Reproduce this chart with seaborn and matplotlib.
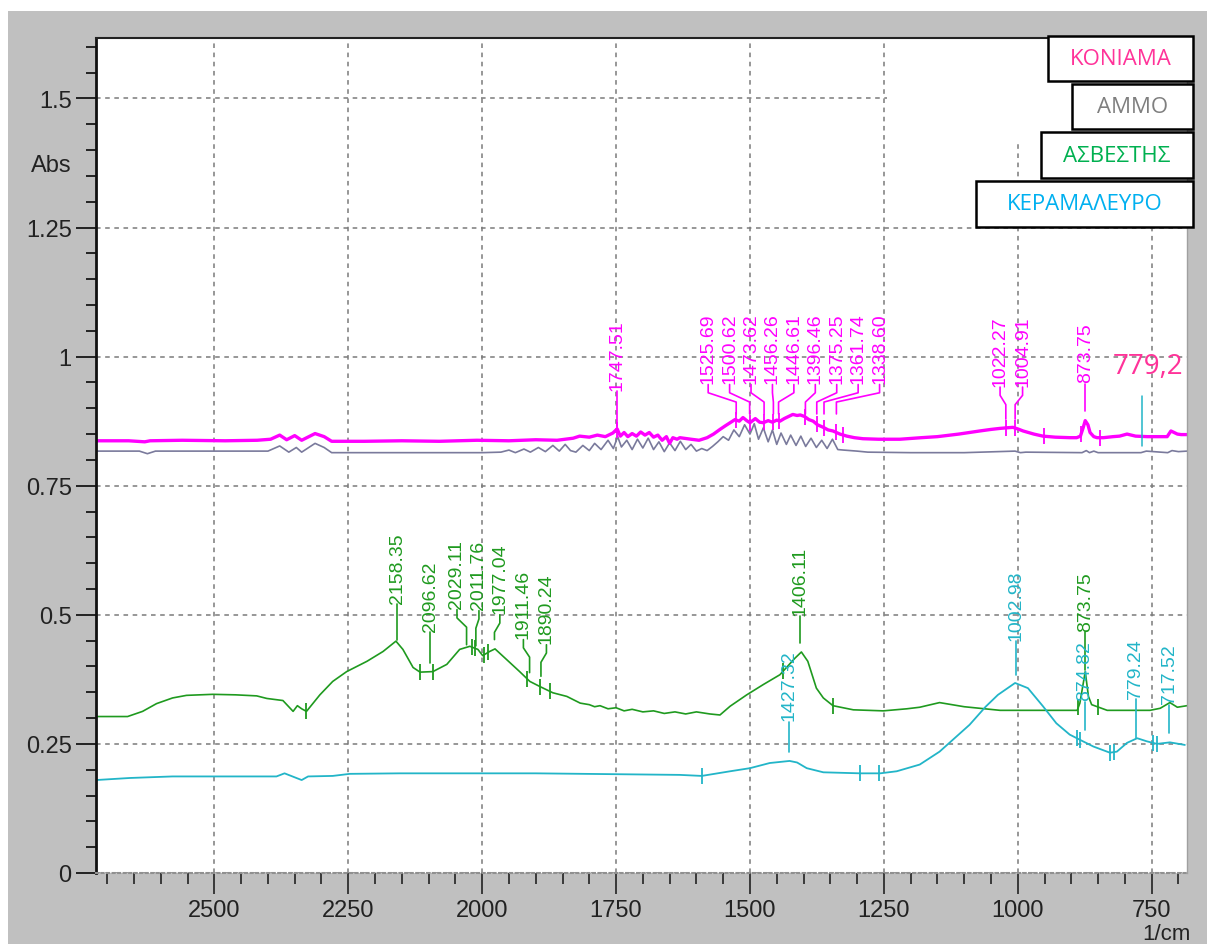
import numpy as np
import pandas as pd
import matplotlib
matplotlib.use("Agg")
import matplotlib.pyplot as plt
import seaborn as sns
from matplotlib import font_manager
from matplotlib.patches import Rectangle
from matplotlib.ticker import MultipleLocator

# --- spectra (wavenumber 1/cm, absorbance) ---
koniama_wn = [2721, 2660, 2630, 2620, 2560, 2480, 2420, 2395, 2378, 2365,
              2350, 2337, 2312, 2295, 2281, 2220, 2150, 2080, 2010, 1950,
              1900, 1860, 1830, 1818, 1800, 1785, 1770, 1756,
              1748, 1742, 1735, 1728, 1720, 1712, 1704, 1696, 1688, 1680,
              1672, 1664, 1656, 1650, 1644, 1636, 1631, 1610, 1595, 1580,
              1568, 1556, 1546, 1537, 1528, 1520, 1513, 1506, 1500, 1490,
              1482, 1475, 1466, 1458, 1450, 1444, 1436, 1428, 1420, 1412,
              1406, 1398, 1390, 1382, 1374, 1363, 1354, 1345, 1332, 1319,
              1305, 1289, 1260, 1220, 1180, 1150, 1110, 1071, 1050, 1033,
              1022, 1009, 1000, 990, 970, 953, 930, 902, 890, 883,
              878, 874, 869, 865, 858, 852, 840, 822, 810, 796,
              780, 758, 740, 721, 714, 708, 702, 695, 684]
koniama_abs = [0.837, 0.837, 0.835, 0.837, 0.838, 0.837, 0.838, 0.840, 0.848, 0.839,
               0.847, 0.838, 0.851, 0.845, 0.836, 0.836, 0.837, 0.836, 0.838, 0.837,
               0.839, 0.838, 0.842, 0.846, 0.844, 0.848, 0.845, 0.852,
               0.860, 0.846, 0.853, 0.845, 0.851, 0.846, 0.854, 0.848, 0.853, 0.844,
               0.848, 0.838, 0.845, 0.832, 0.843, 0.840, 0.843, 0.840, 0.838, 0.843,
               0.850, 0.859, 0.866, 0.872, 0.878, 0.875, 0.882, 0.876, 0.872, 0.880,
               0.873, 0.872, 0.876, 0.873, 0.877, 0.875, 0.880, 0.884, 0.888, 0.886,
               0.887, 0.884, 0.878, 0.875, 0.868, 0.863, 0.858, 0.856, 0.850, 0.846,
               0.843, 0.841, 0.840, 0.840, 0.843, 0.845, 0.850, 0.856, 0.859, 0.861,
               0.862, 0.863, 0.860, 0.856, 0.850, 0.846, 0.844, 0.843, 0.843, 0.846,
               0.862, 0.876, 0.868, 0.853, 0.845, 0.843, 0.843, 0.845, 0.846, 0.850,
               0.846, 0.845, 0.845, 0.845, 0.856, 0.853, 0.850, 0.849, 0.849]

ammo_wn = [2721, 2640, 2625, 2610, 2500, 2400, 2378, 2361, 2347, 2337,
           2312, 2295, 2281, 2200, 2100, 2000,
           1965, 1950, 1938, 1922, 1910, 1895, 1882, 1868, 1856, 1845, 1835, 1825,
           1812, 1800, 1790, 1778, 1765, 1755, 1747, 1740, 1730, 1720,
           1710, 1700, 1690, 1680, 1670, 1660, 1650, 1640, 1630, 1620,
           1610, 1600, 1590, 1580, 1570, 1560, 1550, 1540, 1530, 1520,
           1510, 1500, 1492, 1484, 1475, 1466, 1458, 1450, 1442, 1432,
           1424, 1414, 1405, 1396, 1386, 1376, 1366, 1356, 1346, 1336,
           1325, 1300, 1280, 1200, 1100, 1005, 995, 985, 880, 872,
           866, 858, 850, 840, 770, 760, 720, 712, 700, 684]
ammo_abs = [0.817, 0.817, 0.812, 0.817, 0.817, 0.817, 0.827, 0.815, 0.824, 0.815,
            0.832, 0.824, 0.814, 0.814, 0.814, 0.814,
            0.815, 0.819, 0.814, 0.821, 0.815, 0.824, 0.816, 0.828, 0.817, 0.830, 0.818, 0.815,
            0.828, 0.818, 0.832, 0.820, 0.838, 0.822, 0.845, 0.825, 0.838, 0.820,
            0.840, 0.823, 0.842, 0.820, 0.835, 0.816, 0.833, 0.818, 0.836, 0.820,
            0.830, 0.817, 0.822, 0.818, 0.826, 0.835, 0.845, 0.838, 0.858, 0.845,
            0.868, 0.850, 0.870, 0.840, 0.862, 0.835, 0.858, 0.830, 0.852, 0.830,
            0.848, 0.828, 0.846, 0.826, 0.842, 0.824, 0.838, 0.822, 0.840, 0.820,
            0.819, 0.817, 0.815, 0.814, 0.814, 0.817, 0.814, 0.815, 0.814, 0.818,
            0.814, 0.817, 0.814, 0.814, 0.814, 0.817, 0.814, 0.818, 0.816, 0.817]

asvestis_wn = [2721, 2662, 2634, 2608, 2578, 2552, 2503, 2460, 2421, 2402,
               2372, 2353, 2345, 2337, 2328, 2303, 2279, 2253, 2215, 2185,
               2161, 2148, 2129, 2116, 2092, 2066, 2042, 2023, 2008, 1999,
               1986, 1976, 1954, 1930, 1911, 1892, 1868, 1842, 1817, 1800,
               1790, 1780, 1765, 1750, 1735, 1720, 1700, 1680, 1660, 1640,
               1620, 1600, 1575, 1556, 1537, 1506, 1475, 1444, 1416, 1404,
               1392, 1376, 1363, 1345, 1307, 1251, 1207, 1183, 1146, 1100,
               1033, 889, 884, 874, 868, 862, 833, 753, 734, 716,
               702, 684]
asvestis_abs = [0.303, 0.303, 0.313, 0.328, 0.339, 0.344, 0.346, 0.345, 0.343, 0.338,
                0.334, 0.313, 0.324, 0.318, 0.313, 0.345, 0.371, 0.390, 0.410, 0.429,
                0.449, 0.433, 0.398, 0.389, 0.390, 0.404, 0.433, 0.439, 0.433, 0.421,
                0.429, 0.434, 0.413, 0.390, 0.371, 0.361, 0.349, 0.342, 0.329, 0.326,
                0.322, 0.324, 0.318, 0.320, 0.314, 0.317, 0.312, 0.314, 0.309, 0.312,
                0.308, 0.312, 0.308, 0.306, 0.323, 0.345, 0.365, 0.384, 0.416, 0.428,
                0.410, 0.358, 0.339, 0.324, 0.316, 0.314, 0.318, 0.321, 0.330, 0.322,
                0.315, 0.315, 0.329, 0.390, 0.342, 0.326, 0.315, 0.315, 0.319, 0.330,
                0.321, 0.324]

keramalevro_wn = [2721, 2658, 2578, 2384, 2369, 2337, 2325, 2279, 2247, 2154,
                  1900, 1631, 1590, 1537, 1500, 1463, 1426, 1412, 1394, 1363,
                  1294, 1257, 1226, 1183, 1146, 1090, 1060, 1037, 1005, 981,
                  953, 928, 903, 884, 859, 828, 815, 796, 777, 759,
                  740, 716, 688]
keramalevro_abs = [0.180, 0.184, 0.187, 0.187, 0.193, 0.180, 0.187, 0.188, 0.192, 0.193,
                   0.193, 0.190, 0.188, 0.197, 0.203, 0.213, 0.217, 0.214, 0.203, 0.195,
                   0.193, 0.193, 0.197, 0.210, 0.235, 0.287, 0.322, 0.345, 0.368, 0.358,
                   0.323, 0.290, 0.268, 0.258, 0.245, 0.233, 0.235, 0.252, 0.261, 0.255,
                   0.250, 0.253, 0.248]

# peak picks: value, label x (where the text sits), text bottom, leader end
koniama_peaks = [1747.51, 1525.69, 1500.62, 1473.62, 1456.26, 1446.61, 1396.46,
                 1375.25, 1361.74, 1338.60, 1022.27, 1004.91, 873.75]
koniama_lab_x = [1747.51, 1578, 1538, 1498, 1458, 1418, 1378, 1338, 1298, 1258,
                 1033, 991, 873.75]
koniama_lab_y = [0.933] + [0.946] * 9 + [0.941, 0.941, 0.947]
koniama_end = [0.865] + [0.889] * 9 + [0.879, 0.879, 0.895]
koniama_marks = [1747.5, 1525.7, 1500.6, 1473.6, 1456.3, 1446.6, 1396.5, 1375.3,
                 1361.7, 1338.6, 1326, 1022.3, 1004.9, 951, 882, 847]

asvestis_peaks = [2158.35, 2096.62, 2029.11, 2011.76, 1977.04, 1911.46, 1890.24,
                  1406.11, 873.75]
asvestis_lab_x = [2158.35, 2096.62, 2047, 2006, 1967, 1923, 1880, 1406.11, 873.75]
asvestis_lab_y = [0.520, 0.466, 0.510, 0.508, 0.500, 0.452, 0.442, 0.497, 0.466]
asvestis_end = [0.452, 0.407, 0.442, 0.440, 0.452, 0.388, 0.381, 0.446, 0.394]
asvestis_marks = [2328, 2116, 2092, 2019, 2013, 1997, 1989, 1916, 1892, 1874,
                  1438, 1345, 887, 851]

keramalevro_peaks = [1427.32, 1002.98, 874.82, 779.24, 717.52]
keramalevro_lab_x = [1427.32, 1002.98, 874.82, 779.24, 717.52]
keramalevro_lab_y = [0.293, 0.449, 0.332, 0.336, 0.326]
keramalevro_end = [0.235, 0.384, 0.277, 0.262, 0.272]
keramalevro_marks = [1590, 1294, 1259, 889, 884, 828, 820, 747, 740]

legend_names = ['ΚΟΝΙΑΜΑ', 'ΑΜΜΟ', 'ΑΣΒΕΣΤΗΣ', 'ΚΕΡΑΜΑΛΕΥΡΟ']
legend_colors = ['#ff3399', '#7f7f7f', '#00b050', '#00b0f0']

x_ticks = [2500, 2250, 2000, 1750, 1500, 1250, 1000, 750]
y_ticks = [0, 0.25, 0.5, 0.75, 1, 1.25, 1.5]
y_tick_labels = ['0', '0.25', '0.5', '0.75', '1', '1.25', '1.5']

MAGENTA = '#ff00ff'
GRAY = '#7a7a9c'
GREEN = '#1f9a1f'
CYAN = '#22b5c8'

names = {f.name for f in font_manager.fontManager.ttflist}
narrow = 'Liberation Sans Narrow' if 'Liberation Sans Narrow' in names else 'Liberation Sans'

sns.set_style('white')
plt.rcParams['font.family'] = ['Liberation Sans', 'DejaVu Sans']

W, H = 1207, 945
fig = plt.figure(figsize=(W / 100, H / 100), dpi=100)
fig.patch.set_facecolor('white')
fig.add_artist(Rectangle((8 / W, 0), 1 - 8 / W, (H - 12) / H, transform=fig.transFigure,
                         facecolor='#c0c0c0', edgecolor='none', zorder=-10))

ax = fig.add_axes([96 / W, (H - 874) / H, (1187 - 96) / W, (874 - 39) / H])
ax.set_facecolor('white')

for wn, ab, col, lw in [(ammo_wn, ammo_abs, GRAY, 1.2),
                        (koniama_wn, koniama_abs, MAGENTA, 2.4),
                        (asvestis_wn, asvestis_abs, GREEN, 1.2),
                        (keramalevro_wn, keramalevro_abs, CYAN, 1.3)]:
    df = pd.DataFrame({'wn': wn, 'abs': ab})
    sns.lineplot(data=df, x='wn', y='abs', color=col, lw=lw, estimator=None, ax=ax)


def peak_labels(wn, ab, peaks, lab_x, lab_y, ends, marks, color, fsize=14):
    xp, yp = np.array(wn)[::-1], np.array(ab)[::-1]
    ax.plot(marks, np.interp(marks, xp, yp), ls='none', marker='|', ms=12,
            mew=1.3, color=color, zorder=3)
    for p, lx, ly, e in zip(peaks, lab_x, lab_y, ends):
        if abs(lx - p) < 1:
            xs, ys = [p, p], [ly, e]
        else:
            xs, ys = [lx, lx, p, p], [ly, ly - 0.016, ly - 0.034, e]
        ax.plot(xs, ys, color=color, lw=1.2, zorder=3)
        ax.text(lx, ly + 0.003, f'{p:.2f}', rotation=90, ha='center', va='bottom',
                color=color, fontsize=fsize, family=narrow)


peak_labels(koniama_wn, koniama_abs, koniama_peaks, koniama_lab_x, koniama_lab_y,
            koniama_end, koniama_marks, MAGENTA)
peak_labels(asvestis_wn, asvestis_abs, asvestis_peaks, asvestis_lab_x, asvestis_lab_y,
            asvestis_end, asvestis_marks, GREEN)
peak_labels(keramalevro_wn, keramalevro_abs, keramalevro_peaks, keramalevro_lab_x,
            keramalevro_lab_y, keramalevro_end, keramalevro_marks, CYAN)

# lone pick at 779 cm-1 with its hand-written note
ax.plot([768, 768], [0.826, 0.923], color=CYAN, lw=1.1)
ax.text(757, 0.982, '779,2', ha='center', va='center', fontsize=20,
        color='#ff3399', family=['Open Sans', 'DejaVu Sans'])

ax.set_xlim(2721, 684)
ax.set_ylim(0, 1.617)
ax.set_xticks(x_ticks)
ax.xaxis.set_minor_locator(MultipleLocator(50))
ax.set_yticks(y_ticks)
ax.set_yticklabels(y_tick_labels)
ax.yaxis.set_minor_locator(MultipleLocator(0.05))
ax.set_xlabel('')
ax.set_ylabel('')
ax.grid(True, which='major', linestyle=(0, (3, 3)), color='#7a7a7a', lw=1.1)
ax.set_axisbelow(True)

# blank patch where the legend was pasted over the grid
ax.add_patch(Rectangle((684, 1.42), 1245 - 684, 0.3, facecolor='white',
                       edgecolor='none', zorder=1))

ax.tick_params(axis='y', which='major', length=14.5, width=1.4, color='#222222',
               labelsize=17, pad=3, labelcolor='#222222', left=True)
ax.tick_params(axis='y', which='minor', length=7, width=1.4, color='#222222', left=True)
ax.tick_params(axis='x', which='major', length=15, width=1.2, color='#222222',
               labelsize=17, pad=4, labelcolor='#222222', bottom=True)
ax.tick_params(axis='x', which='minor', length=8, width=1.2, color='#222222', bottom=True)

ax.spines['left'].set_linewidth(2)
ax.spines['left'].set_color('#111111')
ax.spines['top'].set_linewidth(1.5)
ax.spines['top'].set_color('#222222')
ax.spines['right'].set_linewidth(1)
ax.spines['right'].set_color('#a0a0a0')
ax.spines['bottom'].set_linestyle(':')
ax.spines['bottom'].set_color('#909090')
ax.spines['bottom'].set_linewidth(1.5)

fig.text(51 / W, 1 - 166 / H, 'Abs', ha='center', va='center', fontsize=17, color='#222222')
fig.text(1166 / W, 1 - 935 / H, '1/cm', ha='center', va='center', fontsize=16,
         color='#222222')

# pasted legend boxes (pixel boxes: left, top, right, bottom)
boxes = [(1048, 37, 1193, 82), (1072, 85, 1193, 130), (1041, 133, 1193, 179), (976, 182, 1193, 228)]
for name, col, (l, t, r, b) in zip(legend_names, legend_colors, boxes):
    fig.add_artist(Rectangle((l / W, 1 - b / H), (r - l) / W, (b - t) / H,
                             transform=fig.transFigure, facecolor='white',
                             edgecolor='black', lw=1.8, zorder=20))
    fig.text((l + r) / 2 / W, 1 - (t + b) / 2 / H, name, ha='center', va='center',
             fontsize=16, color=col, family=['Open Sans', 'DejaVu Sans'], zorder=21)

fig.savefig('out.png', dpi=100)
